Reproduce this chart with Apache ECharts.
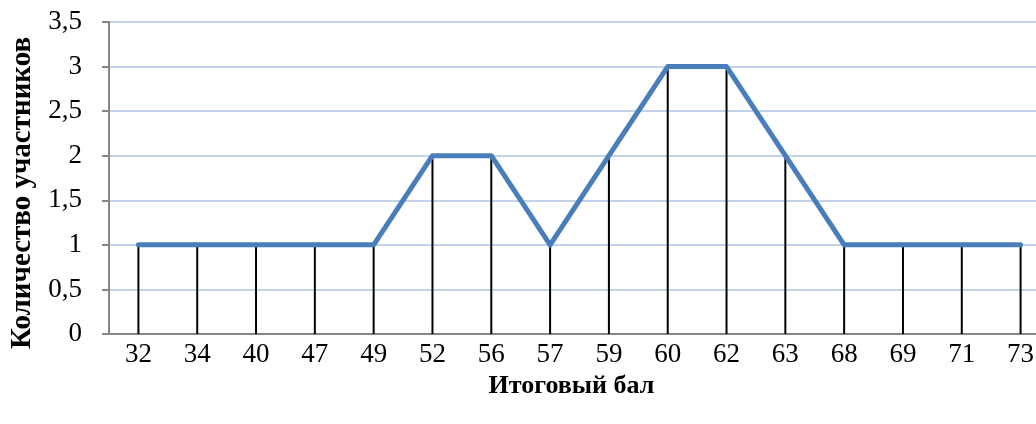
<!DOCTYPE html>
<html>
<head>
<meta charset="utf-8">
<script src="https://cdn.jsdelivr.net/npm/echarts@6/dist/echarts.min.js"></script>
<style>
  html, body { margin: 0; padding: 0; background: #fff; overflow: hidden; }
  /* область графика шире окна: последняя категория обрезана справа, как в оригинале */
  #chart { width: 1050px; height: 424px; }
</style>
</head>
<body>
<div id="chart"></div>
<script>
// итоговые баллы и количество участников
var scores = ["32", "34", "40", "47", "49", "52", "56", "57", "59", "60", "62", "63", "68", "69", "71", "73"];
var counts = [1, 1, 1, 1, 1, 2, 2, 1, 2, 3, 3, 2, 1, 1, 1, 1];
var yTicks = ["0", "0,5", "1", "1,5", "2", "2,5", "3", "3,5"];

var chart = echarts.init(document.getElementById("chart"));
var font = "'Liberation Serif', 'Times New Roman', serif";

var option = {
  animation: false,
  grid: { left: 107, top: 22, bottom: 90, right: 0 },
  xAxis: {
    type: "category",
    data: scores,
    name: "Итоговый бал",
    nameLocation: "middle",
    nameGap: 36,
    nameTextStyle: { fontFamily: font, fontWeight: "bold", fontSize: 26, color: "#000", padding: [0, 16, 0, 0] },
    axisLine: { lineStyle: { color: "#868686", width: 2 } },
    axisTick: { show: false },
    axisLabel: { fontFamily: font, fontSize: 27, color: "#000", margin: 7 }
  },
  yAxis: {
    type: "value",
    min: 0,
    max: 3.5,
    interval: 0.5,
    name: "Количество участников",
    nameLocation: "middle",
    nameGap: 72,
    nameTextStyle: { fontFamily: font, fontWeight: "bold", fontSize: 29, color: "#000", padding: [0, 30, 0, 0] },
    axisLine: { show: true, lineStyle: { color: "#868686", width: 2 } },
    axisTick: { show: true, length: 7, lineStyle: { color: "#868686", width: 2 } },
    axisLabel: {
      fontFamily: font, fontSize: 27, color: "#000", margin: 27,
      formatter: function (v) { return yTicks[Math.round(v * 2)]; }
    },
    splitLine: { lineStyle: { color: "#c3d3ea", width: 2 } }
  },
  series: [
    {
      // вертикальные линии проекции
      type: "bar",
      data: counts,
      barWidth: 2,
      itemStyle: { color: "#000" },
      z: 2
    },
    {
      type: "line",
      data: counts,
      showSymbol: false,
      lineStyle: { color: "#4a7ebb", width: 5, cap: "round", join: "round" },
      z: 3
    }
  ]
};

chart.setOption(option);
</script>
</body>
</html>
